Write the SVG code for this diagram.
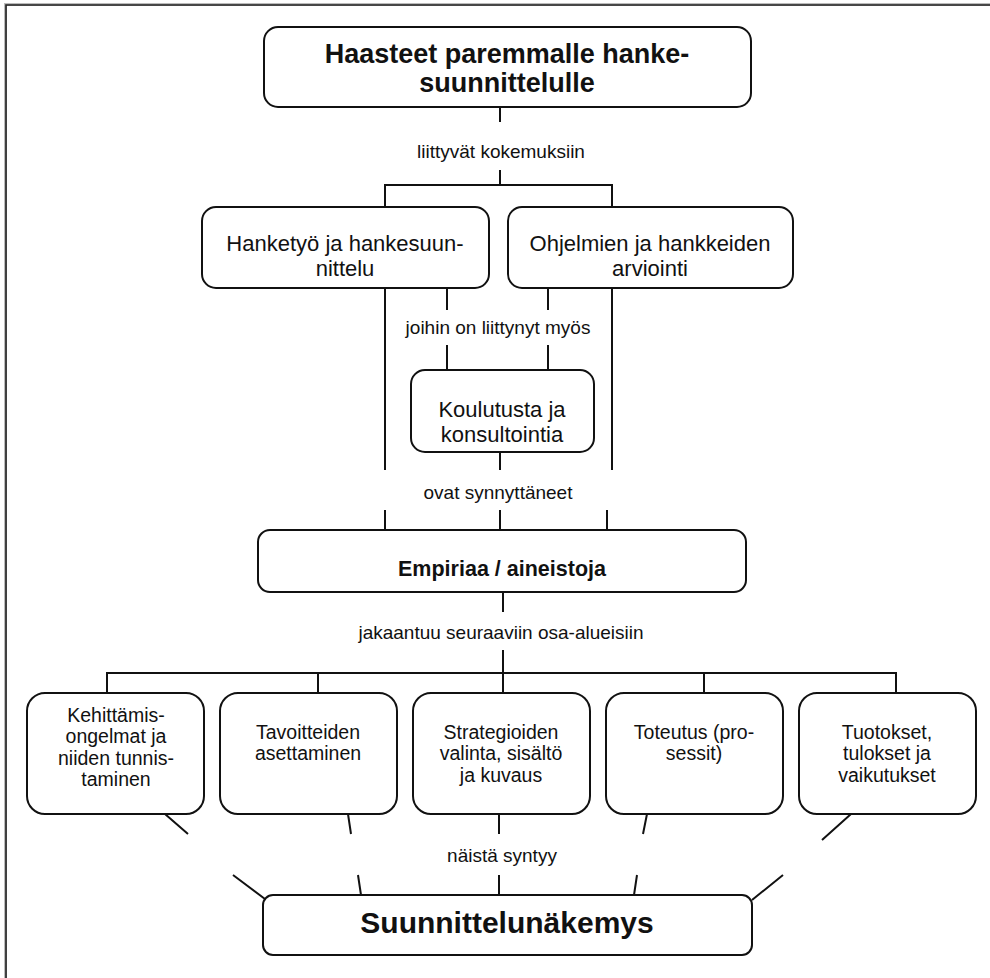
<svg xmlns="http://www.w3.org/2000/svg" width="990" height="978" viewBox="0 0 990 978">
  <style>
    .box { fill: #fff; stroke: #111; stroke-width: 2; }
    .con { fill: none; stroke: #111; stroke-width: 2; }
    text { font-family: "Liberation Sans", Arial, Helvetica, sans-serif; fill: #111; text-anchor: middle; }
    .title { font-size: 27px; font-weight: bold; }
    .big { font-size: 30px; font-weight: bold; }
    .emp { font-size: 21.5px; font-weight: bold; }
    .mid { font-size: 22px; }
    .small { font-size: 19.5px; }
    .lbl { font-size: 19px; }
  </style>
  <rect width="990" height="978" fill="#fff"/>
  <!-- page frame (top and left edges only) -->
  <path d="M5.5 978 V4.5 H990" fill="none" stroke="#bbb" stroke-width="3"/>
  <path d="M6 978 V5 H990" fill="none" stroke="#222" stroke-width="1.6"/>

  <g id="connectors">
    <!-- top box to first level -->
    <path class="con" d="M500 107 V122"/>
    <path class="con" d="M500 170 V185 M385 207 V185 H612 V207"/>
    <!-- first level down to Empiria -->
    <path class="con" d="M385 288 V470 M612 288 V470"/>
    <path class="con" d="M447 288 V310 M548 288 V310"/>
    <path class="con" d="M447 345 V370 M548 345 V370"/>
    <path class="con" d="M500 452 V470"/>
    <path class="con" d="M385 510 V530 M500 510 V530 M607 510 V530"/>
    <!-- Empiria to sub-areas -->
    <path class="con" d="M503 592 V612"/>
    <path class="con" d="M503 650 V673 M107 692 V673 H896 V692 M318 673 V692 M704 673 V692 M503 673 V692"/>
    <!-- sub-areas to Suunnittelunäkemys -->
    <path class="con" d="M165 814 L188 834 M233 875 L265 899"/>
    <path class="con" d="M348 814 L351 834 M358 875 L361 895"/>
    <path class="con" d="M499 814 V834 M499 875 V895"/>
    <path class="con" d="M647 814 L643 834 M637 875 L634 895"/>
    <path class="con" d="M851 814 L822 840 M783 875 L752 900"/>
  </g>

  <g id="lbl-kokemuksiin"><text class="lbl" x="501" y="158">liittyvät kokemuksiin</text></g>
  <g id="lbl-myos"><text class="lbl" x="498" y="334">joihin on liittynyt myös</text></g>
  <g id="lbl-synnyttaneet"><text class="lbl" x="498" y="499">ovat synnyttäneet</text></g>
  <g id="lbl-osa-alueisiin"><text class="lbl" x="501" y="639">jakaantuu seuraaviin osa-alueisiin</text></g>
  <g id="lbl-syntyy"><text class="lbl" x="502" y="862">näistä syntyy</text></g>

  <g id="haasteet">
    <rect class="box" x="264" y="27" width="487" height="80" rx="14"/>
    <text class="title" x="507" y="63">Haasteet paremmalle hanke-</text>
    <text class="title" x="507" y="92">suunnittelulle</text>
  </g>
  <g id="hanketyo">
    <rect class="box" x="202" y="207" width="287" height="81" rx="14"/>
    <text class="mid" x="345" y="251">Hanketyö ja hankesuun-</text>
    <text class="mid" x="345" y="276">nittelu</text>
  </g>
  <g id="arviointi">
    <rect class="box" x="508" y="207" width="285" height="81" rx="14"/>
    <text class="mid" x="650" y="251">Ohjelmien ja hankkeiden</text>
    <text class="mid" x="650" y="276">arviointi</text>
  </g>
  <g id="koulutus">
    <rect class="box" x="411" y="370" width="183" height="82" rx="14"/>
    <text class="mid" x="502" y="417">Koulutusta ja</text>
    <text class="mid" x="502" y="442">konsultointia</text>
  </g>
  <g id="empiria">
    <rect class="box" x="258" y="530" width="488" height="62" rx="12"/>
    <text class="emp" x="502" y="576">Empiriaa / aineistoja</text>
  </g>
  <g id="kehittamis">
    <rect class="box" x="27" y="693" width="177" height="121" rx="18"/>
    <text class="small" x="116" y="722">Kehittämis-</text>
    <text class="small" x="116" y="743">ongelmat ja</text>
    <text class="small" x="116" y="765">niiden tunnis-</text>
    <text class="small" x="116" y="786">taminen</text>
  </g>
  <g id="tavoitteet">
    <rect class="box" x="220" y="693" width="177" height="121" rx="18"/>
    <text class="small" x="308" y="739">Tavoitteiden</text>
    <text class="small" x="308" y="760">asettaminen</text>
  </g>
  <g id="strategiat">
    <rect class="box" x="413" y="693" width="177" height="121" rx="18"/>
    <text class="small" x="501" y="739">Strategioiden</text>
    <text class="small" x="501" y="760">valinta, sisältö</text>
    <text class="small" x="501" y="782">ja kuvaus</text>
  </g>
  <g id="toteutus">
    <rect class="box" x="606" y="693" width="177" height="121" rx="18"/>
    <text class="small" x="694" y="739">Toteutus (pro-</text>
    <text class="small" x="694" y="760">sessit)</text>
  </g>
  <g id="tuotokset">
    <rect class="box" x="799" y="693" width="177" height="121" rx="18"/>
    <text class="small" x="887" y="739">Tuotokset,</text>
    <text class="small" x="887" y="760">tulokset ja</text>
    <text class="small" x="887" y="782">vaikutukset</text>
  </g>
  <g id="suunnittelunakemys">
    <rect class="box" x="263" y="895" width="489" height="60" rx="10"/>
    <text class="big" x="507" y="933">Suunnittelunäkemys</text>
  </g>
</svg>
